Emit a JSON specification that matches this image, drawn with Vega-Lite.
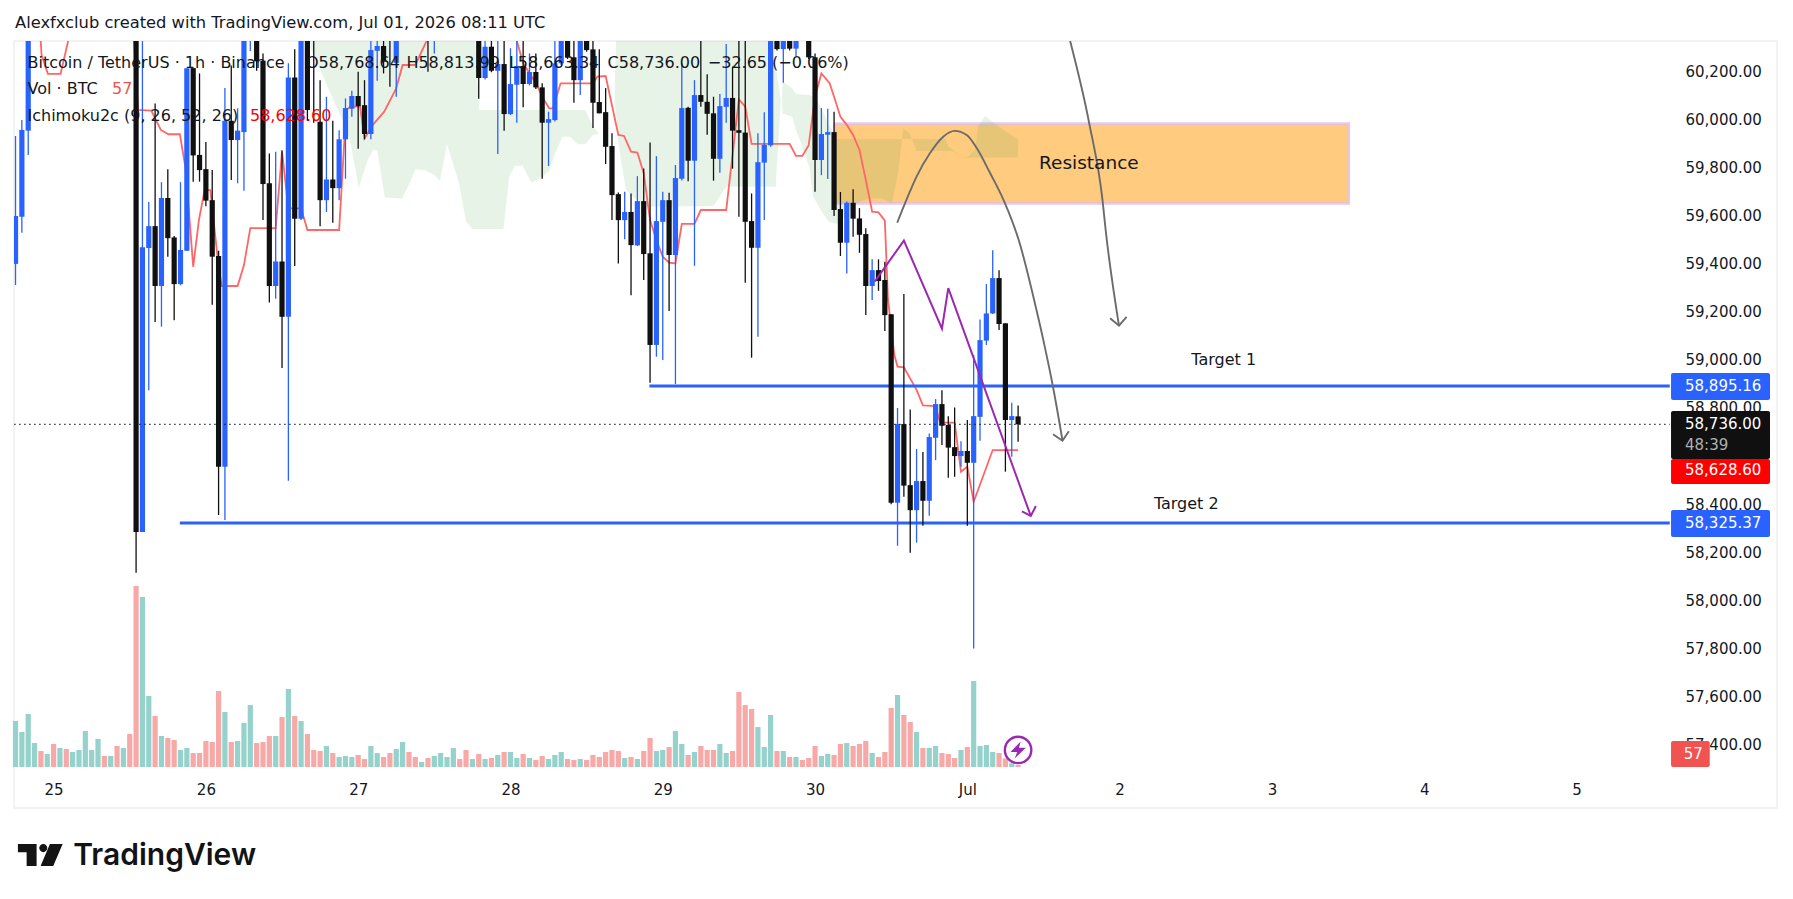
{"$schema":"https://vega.github.io/schema/vega-lite/v6.json","autosize":{"type":"none"},"padding":{"left":14,"top":41,"right":16,"bottom":91},"width":1763,"height":767,"background":"white",
"title":{"text":"Alexfxclub created with TradingView.com, Jul 01, 2026 08:11 UTC","anchor":"start","frame":"group","font":"DejaVu Sans","fontSize":16.3,"fontWeight":"normal","color":"#131722","offset":10,"dx":1},
"config":{"view":{"stroke":"#f1f2f4","strokeWidth":2},"font":"DejaVu Sans"},
"datasets":{
"candles":[
{"h":-6,"d":"u","hi":59935,"bt":59602,"bb":59403,"lo":59315},{"h":-5,"d":"u","hi":60001,"bt":59960,"bb":59599,"lo":59533},{"h":-4,"d":"u","hi":60400,"bt":60400,"bb":59957,"lo":59856},
{"h":13,"d":"d","hi":60400,"bt":60400,"bb":58288,"lo":58119},{"h":14,"d":"u","hi":60400,"bt":59472,"bb":58288,"lo":58288},{"h":15,"d":"u","hi":59660,"bt":59560,"bb":59469,"lo":58878},{"h":16,"d":"d","hi":60070,"bt":59560,"bb":59311,"lo":59161},{"h":17,"d":"u","hi":59743,"bt":59677,"bb":59311,"lo":59142},{"h":18,"d":"d","hi":59797,"bt":59677,"bb":59510,"lo":59433},{"h":19,"d":"d","hi":59519,"bt":59513,"bb":59319,"lo":59169},{"h":20,"d":"u","hi":59743,"bt":59461,"bb":59319,"lo":59314},{"h":21,"d":"u","hi":60217,"bt":60217,"bb":59458,"lo":59458},{"h":22,"d":"d","hi":60217,"bt":60217,"bb":59854,"lo":59745},{"h":23,"d":"d","hi":60195,"bt":59856,"bb":59793,"lo":59745},{"h":24,"d":"d","hi":59910,"bt":59797,"bb":59666,"lo":59643},{"h":25,"d":"d","hi":59793,"bt":59668,"bb":59433,"lo":59233},{"h":26,"d":"d","hi":59458,"bt":59436,"bb":58560,"lo":58359},{"h":27,"d":"u","hi":60134,"bt":59998,"bb":58560,"lo":58338},{"h":28,"d":"d","hi":60228,"bt":59998,"bb":59918,"lo":59752},{"h":29,"d":"u","hi":60050,"bt":59957,"bb":59918,"lo":59738},{"h":30,"d":"u","hi":60400,"bt":60400,"bb":59951,"lo":59707},{"h":31,"d":"u","hi":60400,"bt":60400,"bb":60340,"lo":60288},{"h":32,"d":"d","hi":60400,"bt":60400,"bb":60245,"lo":60206},{"h":33,"d":"d","hi":60278,"bt":60248,"bb":59735,"lo":59585},{"h":34,"d":"d","hi":59862,"bt":59738,"bb":59311,"lo":59242},{"h":35,"d":"u","hi":59869,"bt":59413,"bb":59311,"lo":59258},{"h":36,"d":"d","hi":59876,"bt":59413,"bb":59183,"lo":58970},{"h":37,"d":"u","hi":60237,"bt":60178,"bb":59183,"lo":58501},{"h":38,"d":"d","hi":60295,"bt":60178,"bb":59591,"lo":59394},{"h":39,"d":"u","hi":60400,"bt":60400,"bb":59591,"lo":59585},{"h":40,"d":"d","hi":60400,"bt":60400,"bb":60043,"lo":59998},{"h":41,"d":"d","hi":60400,"bt":60400,"bb":60340,"lo":59990},{"h":42,"d":"d","hi":60167,"bt":59994,"bb":59668,"lo":59560},{"h":43,"d":"u","hi":60098,"bt":59754,"bb":59668,"lo":59619},{"h":44,"d":"d","hi":59998,"bt":59754,"bb":59718,"lo":59574},{"h":45,"d":"u","hi":59959,"bt":59921,"bb":59718,"lo":59668},{"h":46,"d":"u","hi":60091,"bt":60051,"bb":59921,"lo":59757},{"h":47,"d":"u","hi":60123,"bt":60101,"bb":60048,"lo":60015},{"h":48,"d":"d","hi":60202,"bt":60101,"bb":60059,"lo":59882},{"h":49,"d":"d","hi":60167,"bt":60063,"bb":59943,"lo":59921},{"h":50,"d":"u","hi":60400,"bt":60292,"bb":59943,"lo":59921},{"h":51,"d":"u","hi":60400,"bt":60309,"bb":60289,"lo":60165},{"h":52,"d":"d","hi":60400,"bt":60309,"bb":60244,"lo":60195},{"h":53,"d":"d","hi":60400,"bt":60400,"bb":60340,"lo":60140},{"h":54,"d":"u","hi":60400,"bt":60400,"bb":60239,"lo":60098},{"h":59,"d":"d","hi":60400,"bt":60400,"bb":60340,"lo":60202},{"h":60,"d":"u","hi":60400,"bt":60400,"bb":60340,"lo":60278},
{"h":67,"d":"d","hi":60400,"bt":60400,"bb":60176,"lo":60090},{"h":68,"d":"u","hi":60400,"bt":60306,"bb":60176,"lo":60170},{"h":69,"d":"d","hi":60400,"bt":60306,"bb":60206,"lo":60200},{"h":70,"d":"u","hi":60400,"bt":60234,"bb":60206,"lo":59860},{"h":71,"d":"d","hi":60400,"bt":60234,"bb":60026,"lo":59957},{"h":72,"d":"u","hi":60300,"bt":60151,"bb":60026,"lo":60022},{"h":73,"d":"u","hi":60400,"bt":60226,"bb":60148,"lo":59990},{"h":74,"d":"d","hi":60400,"bt":60226,"bb":60151,"lo":60054},{"h":75,"d":"u","hi":60278,"bt":60201,"bb":60151,"lo":60145},{"h":76,"d":"d","hi":60278,"bt":60201,"bb":60137,"lo":60130},{"h":77,"d":"d","hi":60154,"bt":60137,"bb":59990,"lo":59757},{"h":78,"d":"u","hi":60036,"bt":60005,"bb":59990,"lo":59810},{"h":79,"d":"u","hi":60400,"bt":60237,"bb":60001,"lo":59995},{"h":80,"d":"u","hi":60400,"bt":60400,"bb":60237,"lo":60230},{"h":81,"d":"d","hi":60400,"bt":60400,"bb":60262,"lo":60255},{"h":82,"d":"d","hi":60400,"bt":60262,"bb":60167,"lo":60073},{"h":83,"d":"u","hi":60400,"bt":60400,"bb":60167,"lo":60105},{"h":84,"d":"d","hi":60400,"bt":60400,"bb":60292,"lo":60285},{"h":85,"d":"d","hi":60400,"bt":60295,"bb":60073,"lo":59968},{"h":86,"d":"d","hi":60295,"bt":60076,"bb":60029,"lo":60029},{"h":87,"d":"d","hi":60134,"bt":60034,"bb":59890,"lo":59818},{"h":88,"d":"d","hi":59946,"bt":59893,"bb":59689,"lo":59585},{"h":89,"d":"d","hi":59700,"bt":59693,"bb":59585,"lo":59405},{"h":90,"d":"u","hi":59703,"bt":59619,"bb":59585,"lo":59505},{"h":91,"d":"d","hi":59696,"bt":59619,"bb":59481,"lo":59273},{"h":92,"d":"u","hi":59768,"bt":59664,"bb":59480,"lo":59477},{"h":93,"d":"d","hi":59800,"bt":59664,"bb":59444,"lo":59336},{"h":94,"d":"d","hi":59908,"bt":59447,"bb":59066,"lo":58909},{"h":95,"d":"u","hi":59851,"bt":59581,"bb":59066,"lo":59017},{"h":96,"d":"u","hi":59703,"bt":59668,"bb":59578,"lo":59003},{"h":97,"d":"d","hi":59699,"bt":59668,"bb":59440,"lo":59207},{"h":98,"d":"u","hi":59814,"bt":59760,"bb":59440,"lo":58903},{"h":99,"d":"u","hi":60237,"bt":60051,"bb":59757,"lo":59750},{"h":100,"d":"d","hi":60056,"bt":60052,"bb":59832,"lo":59747},{"h":101,"d":"u","hi":60167,"bt":60105,"bb":59832,"lo":59395},{"h":102,"d":"d","hi":60400,"bt":60105,"bb":60077,"lo":60056},{"h":103,"d":"d","hi":60192,"bt":60077,"bb":60027,"lo":59940},{"h":104,"d":"d","hi":60098,"bt":60029,"bb":59840,"lo":59749},{"h":105,"d":"u","hi":60109,"bt":60059,"bb":59840,"lo":59782},{"h":106,"d":"u","hi":60317,"bt":60093,"bb":60056,"lo":59990},{"h":107,"d":"d","hi":60223,"bt":60093,"bb":59957,"lo":59799},{"h":108,"d":"d","hi":60400,"bt":59959,"bb":59948,"lo":59599},{"h":109,"d":"d","hi":60400,"bt":59949,"bb":59578,"lo":59325},{"h":110,"d":"d","hi":59696,"bt":59581,"bb":59470,"lo":59013},{"h":111,"d":"u","hi":59946,"bt":59826,"bb":59470,"lo":59100},{"h":112,"d":"u","hi":60034,"bt":59898,"bb":59824,"lo":59585},{"h":113,"d":"u","hi":60400,"bt":60400,"bb":59896,"lo":59890},{"h":114,"d":"d","hi":60400,"bt":60400,"bb":60296,"lo":60290},{"h":115,"d":"u","hi":60400,"bt":60400,"bb":60296,"lo":60156},{"h":116,"d":"d","hi":60400,"bt":60400,"bb":60298,"lo":60290},{"h":117,"d":"u","hi":60400,"bt":60400,"bb":60298,"lo":60267},{"h":119,"d":"d","hi":60400,"bt":60400,"bb":60262,"lo":60255},{"h":120,"d":"d","hi":60278,"bt":60262,"bb":59835,"lo":59703},{"h":121,"d":"u","hi":60051,"bt":59943,"bb":59835,"lo":59772},{"h":122,"d":"u","hi":60048,"bt":59951,"bb":59940,"lo":59756},{"h":123,"d":"d","hi":60036,"bt":59951,"bb":59627,"lo":59602},{"h":124,"d":"d","hi":59702,"bt":59631,"bb":59491,"lo":59436},{"h":125,"d":"u","hi":59662,"bt":59657,"bb":59491,"lo":59363},{"h":126,"d":"d","hi":59713,"bt":59657,"bb":59591,"lo":59516},{"h":127,"d":"d","hi":59635,"bt":59592,"bb":59524,"lo":59449},{"h":128,"d":"d","hi":59551,"bt":59527,"bb":59311,"lo":59190},{"h":129,"d":"u","hi":59422,"bt":59377,"bb":59311,"lo":59253},{"h":130,"d":"d","hi":59422,"bt":59377,"bb":59332,"lo":59291},{"h":131,"d":"d","hi":59412,"bt":59336,"bb":59190,"lo":59124},{"h":132,"d":"d","hi":59194,"bt":59194,"bb":58410,"lo":58404},{"h":133,"d":"u","hi":58804,"bt":58737,"bb":58410,"lo":58231},{"h":134,"d":"d","hi":59278,"bt":58737,"bb":58481,"lo":58435},{"h":135,"d":"d","hi":58798,"bt":58483,"bb":58379,"lo":58202},{"h":136,"d":"u","hi":58633,"bt":58500,"bb":58379,"lo":58244},{"h":137,"d":"d","hi":58621,"bt":58500,"bb":58418,"lo":58314},{"h":138,"d":"u","hi":58698,"bt":58683,"bb":58418,"lo":58356},{"h":139,"d":"u","hi":58841,"bt":58820,"bb":58680,"lo":58587},{"h":140,"d":"d","hi":58878,"bt":58820,"bb":58730,"lo":58650},{"h":141,"d":"d","hi":58770,"bt":58733,"bb":58639,"lo":58514},{"h":142,"d":"d","hi":58806,"bt":58641,"bb":58604,"lo":58518},{"h":143,"d":"u","hi":58666,"bt":58625,"bb":58604,"lo":58560},{"h":144,"d":"d","hi":58754,"bt":58625,"bb":58576,"lo":58314},{"h":145,"d":"u","hi":59024,"bt":58770,"bb":58576,"lo":57804},{"h":146,"d":"u","hi":59172,"bt":59086,"bb":58767,"lo":58668},{"h":147,"d":"u","hi":59319,"bt":59197,"bb":59084,"lo":59066},{"h":148,"d":"u","hi":59460,"bt":59344,"bb":59197,"lo":59195},{"h":149,"d":"d","hi":59377,"bt":59344,"bb":59153,"lo":59128},{"h":150,"d":"d","hi":59156,"bt":59156,"bb":58754,"lo":58539},{"h":151,"d":"u","hi":58826,"bt":58770,"bb":58754,"lo":58601},{"h":152,"d":"d","hi":58814,"bt":58769,"bb":58736,"lo":58663}],
"volume":[{"h":-6,"k":"g","v":1311},{"h":-5,"k":"g","v":998},{"h":-4,"k":"g","v":1511},{"h":-3,"k":"g","v":684},{"h":-2,"k":"r","v":456},{"h":-1,"k":"g","v":371},{"h":0,"k":"r","v":656},{"h":1,"k":"g","v":542},{"h":2,"k":"r","v":513},{"h":3,"k":"g","v":428},{"h":4,"k":"g","v":485},{"h":5,"k":"g","v":1026},{"h":6,"k":"g","v":485},{"h":7,"k":"g","v":798},{"h":8,"k":"r","v":314},{"h":9,"k":"g","v":314},{"h":10,"k":"r","v":599},{"h":11,"k":"g","v":542},{"h":12,"k":"r","v":941},{"h":13,"k":"r","v":5159},{"h":14,"k":"g","v":4845},{"h":15,"k":"g","v":2024},{"h":16,"k":"r","v":1454},{"h":17,"k":"g","v":884},{"h":18,"k":"r","v":827},{"h":19,"k":"r","v":770},{"h":20,"k":"g","v":485},{"h":21,"k":"g","v":542},{"h":22,"k":"r","v":399},{"h":23,"k":"r","v":399},{"h":24,"k":"r","v":741},{"h":25,"k":"r","v":713},{"h":26,"k":"r","v":2166},{"h":27,"k":"g","v":1568},{"h":28,"k":"r","v":713},{"h":29,"k":"g","v":741},{"h":30,"k":"g","v":1254},{"h":31,"k":"g","v":1767},{"h":32,"k":"r","v":684},{"h":33,"k":"r","v":713},{"h":34,"k":"r","v":884},{"h":35,"k":"g","v":884},{"h":36,"k":"r","v":1425},{"h":37,"k":"g","v":2223},{"h":38,"k":"r","v":1454},{"h":39,"k":"g","v":1311},{"h":40,"k":"r","v":941},{"h":41,"k":"r","v":485},{"h":42,"k":"r","v":456},{"h":43,"k":"g","v":599},{"h":44,"k":"r","v":399},{"h":45,"k":"g","v":285},{"h":46,"k":"g","v":314},{"h":47,"k":"g","v":285},{"h":48,"k":"r","v":342},{"h":49,"k":"r","v":228},{"h":50,"k":"g","v":599},{"h":51,"k":"g","v":399},{"h":52,"k":"r","v":285},{"h":53,"k":"r","v":399},{"h":54,"k":"g","v":513},{"h":55,"k":"g","v":713},{"h":56,"k":"r","v":428},{"h":57,"k":"r","v":285},{"h":58,"k":"g","v":143},{"h":59,"k":"r","v":257},{"h":60,"k":"g","v":314},{"h":61,"k":"g","v":399},{"h":62,"k":"g","v":285},{"h":63,"k":"g","v":542},{"h":64,"k":"r","v":228},{"h":65,"k":"r","v":485},{"h":66,"k":"g","v":228},{"h":67,"k":"r","v":371},{"h":68,"k":"g","v":228},{"h":69,"k":"r","v":257},{"h":70,"k":"g","v":342},{"h":71,"k":"r","v":428},{"h":72,"k":"g","v":428},{"h":73,"k":"g","v":257},{"h":74,"k":"r","v":371},{"h":75,"k":"g","v":257},{"h":76,"k":"r","v":200},{"h":77,"k":"r","v":314},{"h":78,"k":"g","v":228},{"h":79,"k":"g","v":342},{"h":80,"k":"g","v":428},{"h":81,"k":"r","v":228},{"h":82,"k":"r","v":200},{"h":83,"k":"g","v":228},{"h":84,"k":"r","v":200},{"h":85,"k":"r","v":342},{"h":86,"k":"r","v":285},{"h":87,"k":"r","v":428},{"h":88,"k":"r","v":485},{"h":89,"k":"r","v":456},{"h":90,"k":"g","v":257},{"h":91,"k":"r","v":285},{"h":92,"k":"g","v":228},{"h":93,"k":"r","v":456},{"h":94,"k":"r","v":827},{"h":95,"k":"g","v":456},{"h":96,"k":"g","v":485},{"h":97,"k":"r","v":570},{"h":98,"k":"g","v":1026},{"h":99,"k":"g","v":656},{"h":100,"k":"r","v":342},{"h":101,"k":"g","v":428},{"h":102,"k":"r","v":599},{"h":103,"k":"r","v":485},{"h":104,"k":"r","v":485},{"h":105,"k":"g","v":656},{"h":106,"k":"g","v":399},{"h":107,"k":"r","v":456},{"h":108,"k":"r","v":2138},{"h":109,"k":"r","v":1767},{"h":110,"k":"r","v":1653},{"h":111,"k":"g","v":1140},{"h":112,"k":"g","v":570},{"h":113,"k":"g","v":1482},{"h":114,"k":"r","v":456},{"h":115,"k":"g","v":456},{"h":116,"k":"r","v":285},{"h":117,"k":"g","v":285},{"h":118,"k":"r","v":200},{"h":119,"k":"r","v":257},{"h":120,"k":"r","v":599},{"h":121,"k":"g","v":314},{"h":122,"k":"g","v":371},{"h":123,"k":"r","v":342},{"h":124,"k":"r","v":656},{"h":125,"k":"g","v":684},{"h":126,"k":"r","v":599},{"h":127,"k":"r","v":656},{"h":128,"k":"r","v":741},{"h":129,"k":"g","v":399},{"h":130,"k":"r","v":285},{"h":131,"k":"r","v":428},{"h":132,"k":"r","v":1682},{"h":133,"k":"g","v":2052},{"h":134,"k":"r","v":1482},{"h":135,"k":"r","v":1283},{"h":136,"k":"g","v":998},{"h":137,"k":"r","v":542},{"h":138,"k":"g","v":542},{"h":139,"k":"g","v":599},{"h":140,"k":"r","v":399},{"h":141,"k":"r","v":371},{"h":142,"k":"r","v":257},{"h":143,"k":"g","v":485},{"h":144,"k":"r","v":570},{"h":145,"k":"g","v":2451},{"h":146,"k":"g","v":599},{"h":147,"k":"g","v":627},{"h":148,"k":"g","v":428},{"h":149,"k":"r","v":399},{"h":150,"k":"r","v":247},{"h":151,"k":"g","v":105},{"h":152,"k":"r","v":57}],
"ichi":[{"h":-2.1,"p":60362},{"h":-1.9,"p":60272},{"h":-0.9,"p":60193},{"h":1.1,"p":60193},{"h":2.3,"p":60331},{"h":2.8,"p":60417},{"h":12.5,"p":60417},{"h":13.3,"p":60043},{"h":15.4,"p":60040},{"h":16.9,"p":59960},{"h":18.1,"p":59942},{"h":19.9,"p":59942},{"h":20.8,"p":59800},{"h":22,"p":59391},{"h":22.9,"p":59585},{"h":23.8,"p":59710},{"h":24.7,"p":59710},{"h":26,"p":59391},{"h":26.5,"p":59311},{"h":29,"p":59311},{"h":30,"p":59398},{"h":31,"p":59552},{"h":35,"p":59552},{"h":36,"p":59870},{"h":37,"p":59634},{"h":39,"p":59634},{"h":40,"p":59544},{"h":45,"p":59544},{"h":46.1,"p":60043},{"h":46.8,"p":60057},{"h":48.3,"p":60057},{"h":49,"p":59925},{"h":50.3,"p":59981},{"h":52.1,"p":60036},{"h":54,"p":60133},{"h":55,"p":60230},{"h":57,"p":60230},{"h":58.8,"p":60331},{"h":59.5,"p":60417},{"h":72.5,"p":60417},{"h":73,"p":60331},{"h":74,"p":60237},{"h":76,"p":60154},{"h":77.3,"p":60085},{"h":78.1,"p":60050},{"h":78.7,"p":60050},{"h":79.9,"p":60154},{"h":85,"p":60154},{"h":85.7,"p":60182},{"h":87,"p":60184},{"h":89,"p":59939},{"h":89.9,"p":59935},{"h":91,"p":59870},{"h":92,"p":59866},{"h":93,"p":59780},{"h":94,"p":59585},{"h":95,"p":59502},{"h":96,"p":59433},{"h":97,"p":59408},{"h":98,"p":59405},{"h":99,"p":59569},{"h":101,"p":59569},{"h":102,"p":59627},{"h":106,"p":59627},{"h":108,"p":60087},{"h":109,"p":60057},{"h":110,"p":59902},{"h":116,"p":59902},{"h":117,"p":59852},{"h":118,"p":59852},{"h":119,"p":59897},{"h":120,"p":60098},{"h":121,"p":60195},{"h":122.3,"p":60154},{"h":123,"p":60098},{"h":124,"p":60015},{"h":125,"p":59981},{"h":126,"p":59939},{"h":127,"p":59877},{"h":128,"p":59752},{"h":129,"p":59620},{"h":130,"p":59617},{"h":131,"p":59583},{"h":131.5,"p":59253},{"h":132.5,"p":59024},{"h":133,"p":58976},{"h":134,"p":58973},{"h":136,"p":58879},{"h":137,"p":58815},{"h":139,"p":58812},{"h":139.7,"p":58744},{"h":142,"p":58743},{"h":143,"p":58539},{"h":144,"p":58560},{"h":145,"p":58414},{"h":148,"p":58629},{"h":152,"p":58629}],
"cloud":[{"c":1,"h":40.4,"up":60400,"dn":60400},{"c":1,"h":40.5,"up":60500,"dn":60300},{"c":1,"h":46.1,"up":60500,"dn":59967},{"c":1,"h":46.7,"up":60500,"dn":59918},{"c":1,"h":48.1,"up":60500,"dn":59721},{"c":1,"h":49.5,"up":60500,"dn":59835},{"c":1,"h":50.4,"up":60500,"dn":59877},{"c":1,"h":51,"up":60500,"dn":59877},{"c":1,"h":52.2,"up":60500,"dn":59680},{"c":1,"h":54.9,"up":60500,"dn":59674},{"c":1,"h":56.1,"up":60500,"dn":59738},{"c":1,"h":57,"up":60500,"dn":59796},{"c":1,"h":58.5,"up":60500,"dn":59793},{"c":1,"h":60,"up":60500,"dn":59773},{"c":1,"h":60.9,"up":60500,"dn":59748},{"c":1,"h":62,"up":60500,"dn":59902},{"c":1,"h":63.9,"up":60500,"dn":59738},{"c":1,"h":65,"up":60500,"dn":59579},{"c":1,"h":66,"up":60500,"dn":59548},{"c":1,"h":67.1,"up":60043,"dn":59548},{"c":1,"h":70.9,"up":60043,"dn":59548},{"c":1,"h":71.8,"up":60043,"dn":59766},{"c":1,"h":72.7,"up":60043,"dn":59811},{"c":1,"h":73.9,"up":60043,"dn":59811},{"c":1,"h":75.3,"up":60043,"dn":59741},{"c":1,"h":76.6,"up":60043,"dn":59759},{"c":1,"h":78.1,"up":60043,"dn":59787},{"c":1,"h":79,"up":60043,"dn":59860},{"c":1,"h":80.2,"up":60043,"dn":59932},{"c":1,"h":81.4,"up":60043,"dn":59932},{"c":1,"h":82.6,"up":60043,"dn":59900},{"c":1,"h":83.8,"up":60043,"dn":59900},{"c":1,"h":85,"up":59974,"dn":59939},{"c":1,"h":85.9,"up":59946,"dn":59946},
{"c":2,"h":88.4,"up":60085,"dn":60085},{"c":2,"h":88.8,"up":60500,"dn":59973},{"c":2,"h":89,"up":60500,"dn":59904},{"c":2,"h":90.2,"up":60500,"dn":59710},{"c":2,"h":93,"up":60500,"dn":59641},{"c":2,"h":104,"up":60500,"dn":59644},{"c":2,"h":106,"up":60500,"dn":59724},{"c":2,"h":113,"up":60331,"dn":59724},{"c":2,"h":113.8,"up":60223,"dn":59724},{"c":2,"h":114.3,"up":60140,"dn":59946},{"c":2,"h":114.6,"up":60085,"dn":60085},
{"c":3,"h":114.8,"up":60098,"dn":60098},{"c":3,"h":114.9,"up":60161,"dn":60029},{"c":3,"h":116.4,"up":60133,"dn":60015},{"c":3,"h":117,"up":60109,"dn":59960},{"c":3,"h":117.6,"up":60108,"dn":59918},{"c":3,"h":119.1,"up":60105,"dn":59807},{"c":3,"h":119.7,"up":60098,"dn":59683},{"c":3,"h":120.9,"up":60057,"dn":59627},{"c":3,"h":122.1,"up":59988,"dn":59579},{"c":3,"h":123.4,"up":59922,"dn":59569},{"c":3,"h":126.5,"up":59922,"dn":59655},{"c":3,"h":128.6,"up":59922,"dn":59676},{"c":3,"h":130.5,"up":59922,"dn":59676},{"c":3,"h":132.1,"up":59922,"dn":59655},{"c":3,"h":133.1,"up":59922,"dn":59780},{"c":3,"h":133.9,"up":59922,"dn":59967},{"c":3,"h":134.9,"up":59922,"dn":59946},{"c":3,"h":136,"up":59922,"dn":59872},{"c":3,"h":140.5,"up":59922,"dn":59872},{"c":3,"h":141,"up":59890,"dn":59872},{"c":3,"h":141.8,"up":59877,"dn":59872},{"c":3,"h":143.1,"up":59845,"dn":59845},{"c":3,"h":144.1,"up":59849,"dn":59845},{"c":3,"h":145.2,"up":59877,"dn":59845},{"c":3,"h":145.7,"up":59974,"dn":59845},{"c":3,"h":146.8,"up":60018,"dn":59845},{"c":3,"h":149.1,"up":59971,"dn":59845},{"c":3,"h":152,"up":59922,"dn":59845}],
"arcs":[{"s":"a","i":1,"h":132.95,"p":59574},{"s":"a","i":2,"h":134.4,"p":59669},{"s":"a","i":3,"h":136,"p":59766},{"s":"a","i":4,"h":138.1,"p":59863},{"s":"a","i":5,"h":140.2,"p":59932},{"s":"a","i":6,"h":142,"p":59956},{"s":"a","i":7,"h":143.9,"p":59939},{"s":"a","i":8,"h":145.5,"p":59884},{"s":"a","i":9,"h":147.6,"p":59780},{"s":"a","i":10,"h":149.7,"p":59669},{"s":"a","i":11,"h":152.1,"p":59502},{"s":"a","i":12,"h":154.9,"p":59211},{"s":"a","i":13,"h":156.2,"p":59059},{"s":"a","i":14,"h":157.5,"p":58892},{"s":"a","i":15,"h":159,"p":58668},{"s":"b","i":1,"h":160.2,"p":60330},{"s":"b","i":2,"h":163.2,"p":59989},{"s":"b","i":3,"h":165.3,"p":59669},{"s":"b","i":4,"h":165.8,"p":59544},{"s":"b","i":5,"h":167.9,"p":59146}],
"heads":[{"s":"a","i":1,"h":157.5,"p":58695},{"s":"a","i":2,"h":159,"p":58668},{"s":"a","i":3,"h":160,"p":58707},{"s":"b","i":1,"h":166.5,"p":59177},{"s":"b","i":2,"h":167.9,"p":59146},{"s":"b","i":3,"h":169.1,"p":59183}],
"purple":[{"s":"m","i":1,"h":129.4,"p":59329},{"s":"m","i":2,"h":134,"p":59500},{"s":"m","i":3,"h":140,"p":59134},{"s":"m","i":4,"h":141,"p":59302},{"s":"m","i":5,"h":154,"p":58355},{"s":"n","i":1,"h":152.6,"p":58374},{"s":"n","i":2,"h":154,"p":58355},{"s":"n","i":3,"h":154.8,"p":58396}],
"levels":[{"h":93.9,"h2":254.7,"p":58895.16},{"h":19.9,"h2":254.7,"p":58325.37}],
"last":[{"h":-6.2,"h2":254.7,"p":58736}],
"zone":[{"h":123.1,"h2":204.1,"top":59986,"bot":59655}],
"boxes":[{"h":254.9,"h2":270.5,"top":58949,"bot":58837,"k":"level"},{"h":254.9,"h2":270.5,"top":58380,"bot":58267,"k":"level"},{"h":254.9,"h2":270.5,"top":58791,"bot":58592,"k":"last"},{"h":254.9,"h2":270.5,"top":58592,"bot":58488,"k":"ichi"},{"h":254.9,"h2":261,"top":57419,"bot":57311,"k":"vol"}],
"text16":[{"h":-4.11,"p":60238,"t":"Bitcoin / TetherUS · 1h · Binance","k":"ink"},{"h":39.77,"p":60238,"t":"O58,768.64","k":"ink"},{"h":55.6,"p":60238,"t":"H58,813.99","k":"ink"},{"h":71.76,"p":60238,"t":"L58,663.34","k":"ink"},{"h":87.3,"p":60238,"t":"C58,736.00","k":"ink"},{"h":103.1,"p":60238,"t":"−32.65 (−0.06%)","k":"ink"},{"h":-4.11,"p":60130,"t":"Vol · BTC","k":"ink"},{"h":9.2,"p":60130,"t":"57","k":"vol"},{"h":-4.11,"p":60018,"t":"Ichimoku2c (9, 26, 52, 26)","k":"ink"},{"h":30.95,"p":60018,"t":"58,628.60","k":"ichi"},{"h":179.3,"p":59003,"t":"Target 1","k":"ink"},{"h":173.4,"p":58405,"t":"Target 2","k":"ink"}],
"text15":[{"h":257.1,"p":58895,"t":"58,895.16","k":"white"},{"h":257.1,"p":58736,"t":"58,736.00","k":"white"},{"h":257.1,"p":58650,"t":"48:39","k":"muted"},{"h":257.1,"p":58546,"t":"58,628.60","k":"white"},{"h":257.1,"p":58326,"t":"58,325.37","k":"white"},{"h":256.9,"p":57365,"t":"57","k":"white"}],
"resist":[{"h":155.3,"p":59823,"t":"Resistance"}],
"brand":[{"h":3.1,"p":56941,"t":"TradingView"}],
"logo":[{"h":-2.1,"p":56945}],
"flash":[{"h":152,"p":57382}]
},
"encoding":{"x":{"field":"h","type":"quantitative","scale":{"domain":[-6.24,271.6],"nice":false,"zero":false,"padding":0},"axis":{"title":null,"orient":"bottom","values":[0,24,48,72,96,120,144,168,192,216,240],"labelExpr":"datum.value<144 ? ''+(25+datum.value/24) : (datum.value==144 ? 'Jul' : ''+(datum.value/24-5))","labelFont":"DejaVu Sans","labelFontSize":15,"labelColor":"#131722","labelPadding":-19,"labelBaseline":"middle","labelOverlap":false,"labelFlush":false,"ticks":false,"domain":false,"grid":false}}},
"resolve":{"scale":{"y":"independent"}},
"layer":[
{"data":{"name":"volume"},"mark":{"type":"bar","orient":"vertical","width":5.2},"encoding":{"y":{"field":"v","type":"quantitative","scale":{"domain":[-1168,20691],"nice":false,"zero":false},"axis":null},"y2":{"datum":0},"color":{"field":"k","type":"nominal","scale":{"domain":["g","r","u","d","level","last","ichi","vol","ink","white","muted"],"range":["#94d2cb","#f7a9a7","#2962ff","#101010","#2962ff","#101010","#ff0000","#f05350","#131722","#ffffff","#b0b0b0"]},"legend":null}}},
{"layer":[
{"data":{"name":"zone"},"mark":{"type":"rect","color":"#ff9800","fillOpacity":0.5,"stroke":"#e1bee7","strokeWidth":3,"strokeOpacity":0.8,"clip":true},"encoding":{"x2":{"field":"h2"},"y":{"field":"top","type":"quantitative","scale":{"domain":[57140.6,60329.8],"nice":false,"zero":false},"axis":{"title":null,"orient":"right","values":[57400,57600,57800,58000,58200,58400,58600,58800,59000,59200,59400,59600,59800,60000,60200],"format":",.2f","labelAlign":"left","labelPadding":-92,"labelOffset":-1,"labelFont":"DejaVu Sans","labelFontSize":15,"labelColor":"#131722","labelOverlap":false,"labelFlush":false,"ticks":false,"domain":false,"grid":false}},"y2":{"field":"bot"}}},
{"data":{"name":"cloud"},"mark":{"type":"area","color":"#43a047","opacity":0.13,"clip":true},"encoding":{"detail":{"field":"c"},"y":{"field":"up","type":"quantitative","scale":{"domain":[57140.6,60329.8],"nice":false,"zero":false}},"y2":{"field":"dn"}}},
{"data":{"name":"ichi"},"mark":{"type":"line","color":"#ff6666","strokeWidth":1.8,"clip":true},"encoding":{"y":{"field":"p","type":"quantitative","scale":{"domain":[57140.6,60329.8],"nice":false,"zero":false}}}},
{"data":{"name":"levels"},"mark":{"type":"rule","color":"#2962ff","strokeWidth":3},"encoding":{"x2":{"field":"h2"},"y":{"field":"p","type":"quantitative","scale":{"domain":[57140.6,60329.8],"nice":false,"zero":false}}}},
{"data":{"name":"candles"},"mark":{"type":"rule","strokeWidth":1.3,"clip":true},"encoding":{"y":{"field":"lo","type":"quantitative","scale":{"domain":[57140.6,60329.8],"nice":false,"zero":false}},"y2":{"field":"hi"},"color":{"field":"d","type":"nominal","scale":{"domain":["g","r","u","d","level","last","ichi","vol","ink","white","muted"],"range":["#94d2cb","#f7a9a7","#2962ff","#101010","#2962ff","#101010","#ff0000","#f05350","#131722","#ffffff","#b0b0b0"]},"legend":null}}},
{"data":{"name":"candles"},"mark":{"type":"bar","orient":"vertical","width":5.2,"clip":true},"encoding":{"y":{"field":"bb","type":"quantitative","scale":{"domain":[57140.6,60329.8],"nice":false,"zero":false}},"y2":{"field":"bt"},"color":{"field":"d","type":"nominal","scale":{"domain":["g","r","u","d","level","last","ichi","vol","ink","white","muted"],"range":["#94d2cb","#f7a9a7","#2962ff","#101010","#2962ff","#101010","#ff0000","#f05350","#131722","#ffffff","#b0b0b0"]},"legend":null}}},
{"data":{"name":"last"},"mark":{"type":"rule","color":"#131722","strokeWidth":1.2,"strokeDash":[1.3,3.7]},"encoding":{"x2":{"field":"h2"},"y":{"field":"p","type":"quantitative","scale":{"domain":[57140.6,60329.8],"nice":false,"zero":false}}}},
{"data":{"name":"arcs"},"mark":{"type":"line","color":"#6b6b6b","strokeWidth":1.9,"interpolate":"monotone","clip":true},"encoding":{"detail":{"field":"s"},"order":{"field":"i"},"y":{"field":"p","type":"quantitative","scale":{"domain":[57140.6,60329.8],"nice":false,"zero":false}}}},
{"data":{"name":"heads"},"mark":{"type":"line","color":"#6b6b6b","strokeWidth":1.9},"encoding":{"detail":{"field":"s"},"order":{"field":"i"},"y":{"field":"p","type":"quantitative","scale":{"domain":[57140.6,60329.8],"nice":false,"zero":false}}}},
{"data":{"name":"purple"},"mark":{"type":"line","color":"#9c27b0","strokeWidth":2},"encoding":{"detail":{"field":"s"},"order":{"field":"i"},"y":{"field":"p","type":"quantitative","scale":{"domain":[57140.6,60329.8],"nice":false,"zero":false}}}},
{"data":{"name":"flash"},"mark":{"type":"point","shape":"circle","filled":false,"fill":"#ffffff","fillOpacity":1,"stroke":"#9c27b0","strokeWidth":2.4,"size":700},"encoding":{"y":{"field":"p","type":"quantitative","scale":{"domain":[57140.6,60329.8],"nice":false,"zero":false}}}},
{"data":{"name":"flash"},"mark":{"type":"point","shape":"M0.3 -1L-0.9 0.25L-0.1 0.25L-0.4 1L0.9 -0.25L0.1 -0.25Z","filled":true,"color":"#9c27b0","opacity":1,"size":289},"encoding":{"y":{"field":"p","type":"quantitative","scale":{"domain":[57140.6,60329.8],"nice":false,"zero":false}}}},
{"data":{"name":"boxes"},"mark":{"type":"rect","cornerRadius":2},"encoding":{"x2":{"field":"h2"},"y":{"field":"top","type":"quantitative","scale":{"domain":[57140.6,60329.8],"nice":false,"zero":false}},"y2":{"field":"bot"},"color":{"field":"k","type":"nominal","scale":{"domain":["g","r","u","d","level","last","ichi","vol","ink","white","muted"],"range":["#94d2cb","#f7a9a7","#2962ff","#101010","#2962ff","#101010","#ff0000","#f05350","#131722","#ffffff","#b0b0b0"]},"legend":null}}},
{"data":{"name":"text16"},"mark":{"type":"text","align":"left","baseline":"middle","font":"DejaVu Sans","fontSize":16},"encoding":{"y":{"field":"p","type":"quantitative","scale":{"domain":[57140.6,60329.8],"nice":false,"zero":false}},"text":{"field":"t"},"color":{"field":"k","type":"nominal","scale":{"domain":["g","r","u","d","level","last","ichi","vol","ink","white","muted"],"range":["#94d2cb","#f7a9a7","#2962ff","#101010","#2962ff","#101010","#ff0000","#f05350","#131722","#ffffff","#b0b0b0"]},"legend":null}}},
{"data":{"name":"text15"},"mark":{"type":"text","align":"left","baseline":"middle","font":"DejaVu Sans","fontSize":15},"encoding":{"y":{"field":"p","type":"quantitative","scale":{"domain":[57140.6,60329.8],"nice":false,"zero":false}},"text":{"field":"t"},"color":{"field":"k","type":"nominal","scale":{"domain":["g","r","u","d","level","last","ichi","vol","ink","white","muted"],"range":["#94d2cb","#f7a9a7","#2962ff","#101010","#2962ff","#101010","#ff0000","#f05350","#131722","#ffffff","#b0b0b0"]},"legend":null}}},
{"data":{"name":"resist"},"mark":{"type":"text","align":"left","baseline":"middle","font":"DejaVu Sans","fontSize":18.5,"color":"#131722"},"encoding":{"y":{"field":"p","type":"quantitative","scale":{"domain":[57140.6,60329.8],"nice":false,"zero":false}},"text":{"field":"t"}}},
{"data":{"name":"logo"},"mark":{"type":"point","shape":"M-1 -0.49H-0.164V0.49H-0.61V-0.13H-1ZM0.43 -0.49H1L0.58 0.49H0.015ZM0.314 -0.31A0.18 0.18 0 1 1 -0.046 -0.31A0.18 0.18 0 1 1 0.314 -0.31Z","filled":true,"color":"#131313","opacity":1,"size":2000},"encoding":{"y":{"field":"p","type":"quantitative","scale":{"domain":[57140.6,60329.8],"nice":false,"zero":false}}}},
{"data":{"name":"brand"},"mark":{"type":"text","align":"left","baseline":"middle","font":"Inter","fontWeight":600,"fontSize":30,"color":"#131313"},"encoding":{"y":{"field":"p","type":"quantitative","scale":{"domain":[57140.6,60329.8],"nice":false,"zero":false}},"text":{"field":"t"}}}
]}
]}
